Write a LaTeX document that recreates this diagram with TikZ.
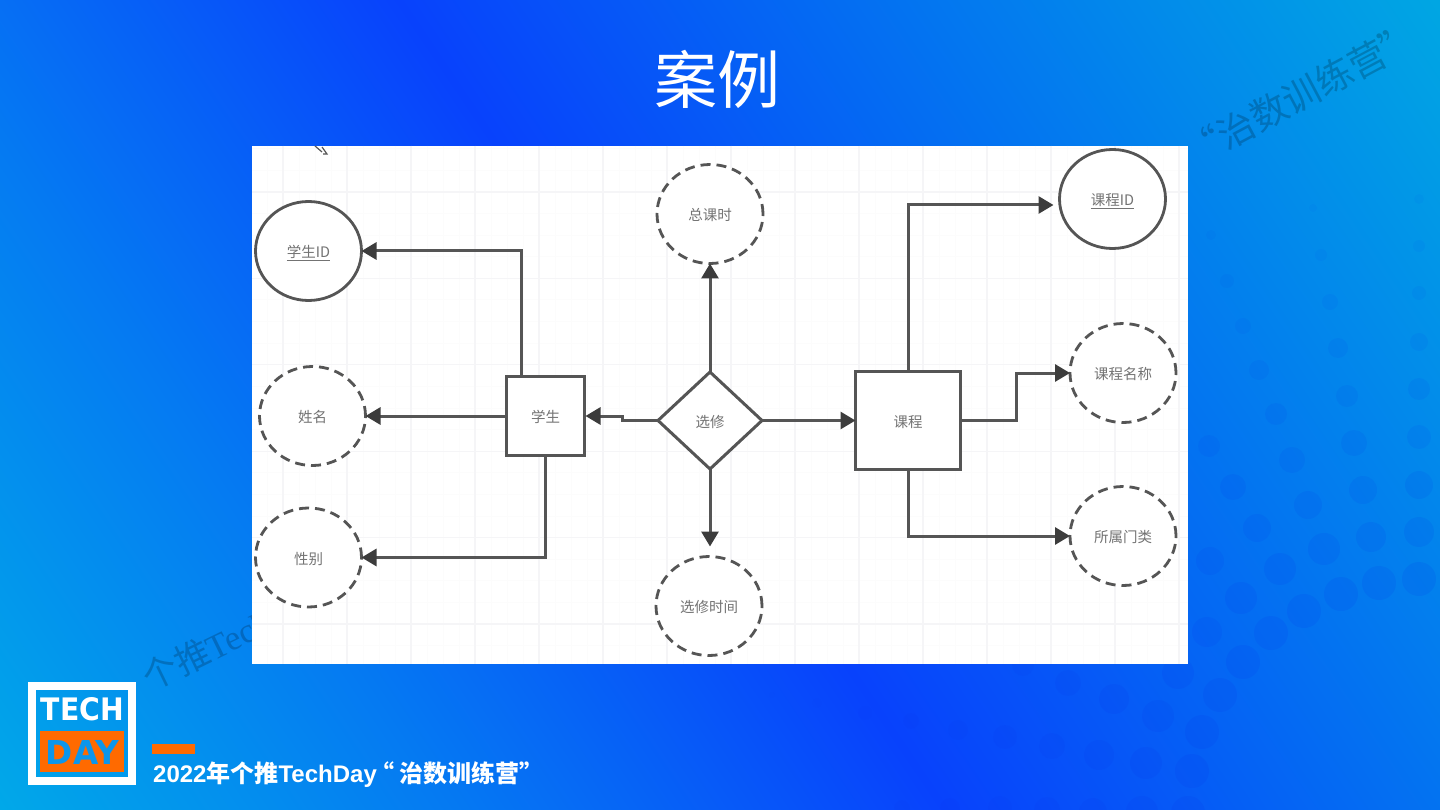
\documentclass[tikz,border=0pt]{standalone}
\usepackage{fontspec}
\usepackage{graphicx}
\usetikzlibrary{shapes.geometric,arrows.meta}
\setmainfont{Liberation Sans}
\newfontfamily\cjk{Noto Sans CJK SC}
\newfontfamily\wmlatin{Liberation Serif}
\newfontfamily\logofont{DejaVu Sans}
\definecolor{bgA}{RGB}{0,172,232}
\definecolor{bgB}{RGB}{5,122,242}
\definecolor{bgC}{RGB}{8,66,252}
\definecolor{bgD}{RGB}{3,118,240}
\definecolor{bgE}{RGB}{0,170,226}
\definecolor{dotc}{RGB}{8,50,235}
\definecolor{linec}{RGB}{85,85,85}
\definecolor{tipc}{RGB}{60,60,60}
\definecolor{labelc}{RGB}{115,115,115}
\definecolor{orangec}{RGB}{255,106,0}
\definecolor{logob}{RGB}{12,150,235}
\definecolor{gridminor}{RGB}{252,252,252}
\definecolor{gridmajor}{RGB}{245,245,247}
\pgfdeclarehorizontalshading{slidebg}{1700bp}{color(0bp)=(bgA); color(400bp)=(bgB); color(810bp)=(bgC); color(1250bp)=(bgD); color(1700bp)=(bgE)}
\tikzset{
  x=1pt,y=-1pt,
  attrbase/.style={draw=linec,ellipse,line width=2.8pt,fill=white,minimum width=106pt,minimum height=99pt,inner sep=0pt,outer sep=0pt,text=labelc,text height=15pt,text depth=2pt,font=\fontsize{14.5}{16}\cjk},
  keyattr/.style={attrbase},
  attr/.style={attrbase,dash pattern=on 10pt off 6pt},
  entity/.style={draw=linec,rectangle,line width=3pt,fill=white,inner sep=0pt,outer sep=0pt,text=labelc,text height=15pt,text depth=2pt,font=\fontsize{14.5}{16}\cjk},
  rel/.style={draw=linec,diamond,line width=3pt,fill=white,minimum width=104pt,minimum height=97pt,inner sep=0pt,outer sep=0pt,text=labelc,text height=15pt,text depth=2pt,font=\fontsize{14.5}{16}\cjk},
  conn/.style={draw=linec,line width=3pt,-{Triangle[length=15pt,width=17pt,color=tipc]}},
  watermark/.style={inner sep=0pt,text=black,text opacity=0.2,font=\fontsize{37}{39}\cjk},
}
\begin{document}
\begin{tikzpicture}
\useasboundingbox (0,0) rectangle (1440,810);
\begin{scope}
\clip (0,0) rectangle (1440,810);
\node[rotate=34,inner sep=0pt] (bg) at (720,405) {\pgfuseshading{slidebg}};
\foreach \cx/\cy/\r in {
 1419/199/5,1419/246/6,1419/293/7,1419/342/9,1419/389/11,1419/437/12,1419/485/14,1419/532/15,1419/579/17,
 1313/208/4,1321/255/6,1330/302/8,1338/348/10,1347/396/11,1354/443/13,1363/490/14,1371/537/15,1379/583/17,
 1211/235/5,1227/281/7,1243/326/8,1259/370/10,1276/414/11,1292/460/13,1308/505/14,1324/549/16,1341/594/17,
 1209/446/11,1233/487/13,1257/528/14,1280/569/16,1304/611/17,
 1210/561/14,1241/598/16,1271/633/17,1207/632/15,1243/662/17,
 772/695/3,817/703/5,865/713/7,911/721/8,958/730/10,1005/737/12,1052/746/13,1099/755/15,1146/763/16,1192/771/17,
 1023/665/11,1068/683/13,1114/699/15,1158/716/16,1202/732/17,1178/673/16,1220/695/17,
 902/808/8,950/808/10,1000/808/12,1047/810/13,1093/812/14,1142/812/16,1188/813/17}{
  \pgfmathsetmacro\op{0.015+0.006*\r}
  \fill[dotc,opacity=\op] (\cx,\cy) circle[radius=\r];
}
\end{scope}
% watermarks
\node[watermark,rotate=28,anchor=west] (wmtop) at (1187,155) {“治数训练营”};
\node[watermark,rotate=26,anchor=west,font=\fontsize{35}{37}\cjk] (wmbot) at (146,682) {个推{\wmlatin TechDay}};
% pasted image
\fill[white] (252,146) rectangle (1188,664);
\begin{scope}
\clip (252,146) rectangle (1188,664);
\foreach \i in {-2,...,57}{\draw[gridminor,line width=1pt] (267+16*\i,146) -- (267+16*\i,664);}
\foreach \i in {-1,...,23}{\draw[gridminor,line width=1pt] (252,170.4+21.6*\i) -- (1188,170.4+21.6*\i);}
\foreach \i in {-1,...,14}{\draw[gridmajor,line width=1.2pt] (283+64*\i,146) -- (283+64*\i,664);}
\foreach \i in {0,...,5}{\draw[gridmajor,line width=1.2pt] (252,192+86.4*\i) -- (1188,192+86.4*\i);}
\draw[linec,line width=1.2pt] (315,146) -- (322,152);
\draw[linec,line width=1.2pt] (322,147) -- (327,154) -- (323,154);
\end{scope}
% nodes
\node[keyattr] (sid) at (308.5,251) {\underline{学生ID}};
\node[attr] (sname) at (312.5,416) {姓名};
\node[attr] (sex) at (308.5,557.5) {性别};
\node[attr] (hours) at (710,214) {总课时};
\node[attr] (seltime) at (709,606) {选修时间};
\node[keyattr] (cid) at (1112.5,199) {\underline{课程ID}};
\node[attr] (cname) at (1123,373) {课程名称};
\node[attr] (ccat) at (1123,536) {所属门类};
\node[entity,minimum width=78pt,minimum height=79pt] (stu) at (545.5,416) {学生};
\node[rel] (sel) at (710,420.5) {选修};
\node[entity,minimum width=105pt,minimum height=98pt] (course) at (908,420.5) {课程};
% connectors
\draw[conn] ([xshift=-24.5pt]stu.north) |- (sid.east);
\draw[conn] (stu.west) -- (sname.east);
\draw[conn] (stu.south) |- (sex.east);
\draw[conn,shorten >=1pt] (sel.west) -- (622,420.5) -- (622,416) -- (stu.east);
\draw[conn] (sel.north) -- (hours.south);
\draw[conn,shorten >=10pt] (sel.south) -- (sel.south |- seltime.north);
\draw[conn] (sel.east) -- (course.west);
\draw[conn] (course.north) |- ([xshift=-6pt]cid.west |- 0,205);
\draw[conn] (course.east) -- (1016,420.5) -- (1016,373) -- (cname.west);
\draw[conn] (course.south) |- (ccat.west);
% title
\node[text=white,inner sep=0pt,font=\fontsize{63}{70}\cjk] (title) at (717,79) {案例};
% logo
\draw[white,line width=8pt] (32.3,685.7) rectangle (131.7,780.5);
\node[text=white,inner sep=0pt] (tech) at (82.5,709.5) {\resizebox{83pt}{23pt}{\logofont\bfseries TECH}};
\fill[orangec] (40,731) rectangle (124,772);
\node[text=logob,inner sep=0pt] (day) at (82.5,752) {\resizebox{73pt}{24pt}{\logofont\bfseries DAY}};
\fill[orangec] (152,744) rectangle (195,754);
\node[anchor=west,text=white,inner sep=0pt,font=\fontsize{24}{27}\bfseries] (foot) at (153,775) {2022{\cjk\bfseries 年个推}TechDay\hspace{-6pt}{\cjk\bfseries “\hspace{5pt}治数训练营”}};
\end{tikzpicture}
\end{document}
